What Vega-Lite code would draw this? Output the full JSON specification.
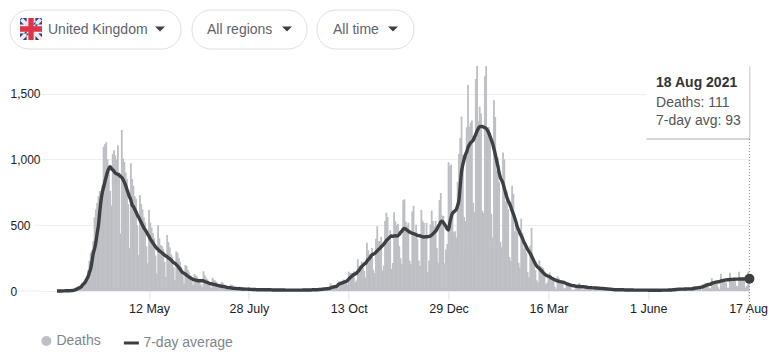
{"$schema":"https://vega.github.io/schema/vega-lite/v6.json","width":708,"height":225,"autosize":{"type":"none"},"padding":{"left":41.4,"top":66,"right":19.6,"bottom":61},"background":"white","config":{"view":{"stroke":null},"font":"Liberation Sans"},
"data":{"values":[
{"d":"2020-03-02","v":0,"a":0},{"d":"2020-03-03","v":0,"a":0},{"d":"2020-03-04","v":1,"a":0},{"d":"2020-03-05","v":0,"a":0},{"d":"2020-03-06","v":1,"a":0},{"d":"2020-03-07","v":2,"a":1},{"d":"2020-03-08","v":1,"a":1},
{"d":"2020-03-09","v":2,"a":2},{"d":"2020-03-10","v":1,"a":2},{"d":"2020-03-11","v":3,"a":2},{"d":"2020-03-12","v":2,"a":2},{"d":"2020-03-13","v":6,"a":3},{"d":"2020-03-14","v":8,"a":4},{"d":"2020-03-15","v":10,"a":5},
{"d":"2020-03-16","v":20,"a":8},{"d":"2020-03-17","v":30,"a":12},{"d":"2020-03-18","v":35,"a":17},{"d":"2020-03-19","v":40,"a":22},{"d":"2020-03-20","v":35,"a":27},{"d":"2020-03-21","v":50,"a":35},{"d":"2020-03-22","v":60,"a":50},
{"d":"2020-03-23","v":75,"a":58},{"d":"2020-03-24","v":90,"a":72},{"d":"2020-03-25","v":110,"a":90},{"d":"2020-03-26","v":160,"a":110},{"d":"2020-03-27","v":230,"a":140},{"d":"2020-03-28","v":290,"a":170},{"d":"2020-03-29","v":310,"a":225},
{"d":"2020-03-30","v":380,"a":286},{"d":"2020-03-31","v":560,"a":320},{"d":"2020-04-01","v":620,"a":370},{"d":"2020-04-02","v":670,"a":438},{"d":"2020-04-03","v":720,"a":500},{"d":"2020-04-04","v":760,"a":600},{"d":"2020-04-05","v":650,"a":690},
{"d":"2020-04-06","v":800,"a":750},{"d":"2020-04-07","v":1095,"a":790},{"d":"2020-04-08","v":1115,"a":830},{"d":"2020-04-09","v":1130,"a":870},{"d":"2020-04-10","v":1000,"a":905},{"d":"2020-04-11","v":950,"a":930},{"d":"2020-04-12","v":760,"a":944},
{"d":"2020-04-13","v":650,"a":930},{"d":"2020-04-14","v":1040,"a":920},{"d":"2020-04-15","v":1070,"a":910},{"d":"2020-04-16","v":1030,"a":895},{"d":"2020-04-17","v":1000,"a":890},{"d":"2020-04-18","v":1108,"a":885},{"d":"2020-04-19","v":900,"a":880},
{"d":"2020-04-20","v":437,"a":870},{"d":"2020-04-21","v":1222,"a":862},{"d":"2020-04-22","v":1007,"a":845},{"d":"2020-04-23","v":980,"a":825},{"d":"2020-04-24","v":900,"a":800},{"d":"2020-04-25","v":850,"a":770},{"d":"2020-04-26","v":660,"a":741},
{"d":"2020-04-27","v":324,"a":715},{"d":"2020-04-28","v":970,"a":690},{"d":"2020-04-29","v":850,"a":653},{"d":"2020-04-30","v":800,"a":640},{"d":"2020-05-01","v":720,"a":620},{"d":"2020-05-02","v":700,"a":600},{"d":"2020-05-03","v":500,"a":577},
{"d":"2020-05-04","v":273,"a":560},{"d":"2020-05-05","v":730,"a":540},{"d":"2020-05-06","v":660,"a":520},{"d":"2020-05-07","v":620,"a":500},{"d":"2020-05-08","v":560,"a":480},{"d":"2020-05-09","v":520,"a":465},{"d":"2020-05-10","v":340,"a":450},
{"d":"2020-05-11","v":210,"a":430},{"d":"2020-05-12","v":615,"a":415},{"d":"2020-05-13","v":520,"a":395},{"d":"2020-05-14","v":480,"a":380},{"d":"2020-05-15","v":440,"a":365},{"d":"2020-05-16","v":400,"a":350},{"d":"2020-05-17","v":270,"a":336},
{"d":"2020-05-18","v":134,"a":325},{"d":"2020-05-19","v":500,"a":315},{"d":"2020-05-20","v":400,"a":305},{"d":"2020-05-21","v":350,"a":298},{"d":"2020-05-22","v":340,"a":290},{"d":"2020-05-23","v":320,"a":280},{"d":"2020-05-24","v":220,"a":273},
{"d":"2020-05-25","v":109,"a":265},{"d":"2020-05-26","v":425,"a":260},{"d":"2020-05-27","v":370,"a":250},{"d":"2020-05-28","v":330,"a":245},{"d":"2020-05-29","v":280,"a":235},{"d":"2020-05-30","v":260,"a":225},{"d":"2020-05-31","v":180,"a":215},
{"d":"2020-06-01","v":83,"a":210},{"d":"2020-06-02","v":300,"a":200},{"d":"2020-06-03","v":290,"a":190},{"d":"2020-06-04","v":250,"a":178},{"d":"2020-06-05","v":220,"a":165},{"d":"2020-06-06","v":180,"a":150},{"d":"2020-06-07","v":120,"a":140},
{"d":"2020-06-08","v":58,"a":135},{"d":"2020-06-09","v":197,"a":128},{"d":"2020-06-10","v":190,"a":120},{"d":"2020-06-11","v":160,"a":112},{"d":"2020-06-12","v":140,"a":105},{"d":"2020-06-13","v":120,"a":100},{"d":"2020-06-14","v":75,"a":92},
{"d":"2020-06-15","v":45,"a":88},{"d":"2020-06-16","v":130,"a":85},{"d":"2020-06-17","v":120,"a":82},{"d":"2020-06-18","v":110,"a":80},{"d":"2020-06-19","v":95,"a":78},{"d":"2020-06-20","v":85,"a":78},{"d":"2020-06-21","v":50,"a":78},
{"d":"2020-06-22","v":30,"a":78},{"d":"2020-06-23","v":150,"a":76},{"d":"2020-06-24","v":120,"a":72},{"d":"2020-06-25","v":100,"a":68},{"d":"2020-06-26","v":90,"a":65},{"d":"2020-06-27","v":70,"a":60},{"d":"2020-06-28","v":40,"a":56},
{"d":"2020-06-29","v":25,"a":55},{"d":"2020-06-30","v":100,"a":52},{"d":"2020-07-01","v":85,"a":50},{"d":"2020-07-02","v":80,"a":48},{"d":"2020-07-03","v":70,"a":45},{"d":"2020-07-04","v":55,"a":42},{"d":"2020-07-05","v":30,"a":40},
{"d":"2020-07-06","v":20,"a":38},{"d":"2020-07-07","v":70,"a":36},{"d":"2020-07-08","v":60,"a":34},{"d":"2020-07-09","v":50,"a":33},{"d":"2020-07-10","v":40,"a":31},{"d":"2020-07-11","v":35,"a":28},{"d":"2020-07-12","v":20,"a":26},
{"d":"2020-07-13","v":12,"a":25},{"d":"2020-07-14","v":50,"a":24},{"d":"2020-07-15","v":45,"a":22},{"d":"2020-07-16","v":35,"a":21},{"d":"2020-07-17","v":30,"a":20},{"d":"2020-07-18","v":25,"a":19},{"d":"2020-07-19","v":12,"a":18},
{"d":"2020-07-20","v":10,"a":18},{"d":"2020-07-21","v":35,"a":17},{"d":"2020-07-22","v":30,"a":16},{"d":"2020-07-23","v":25,"a":15},{"d":"2020-07-24","v":20,"a":15},{"d":"2020-07-25","v":15,"a":14},{"d":"2020-07-26","v":8,"a":14},
{"d":"2020-07-27","v":7,"a":14},{"d":"2020-07-28","v":28,"a":13},{"d":"2020-07-29","v":22,"a":12},{"d":"2020-07-30","v":18,"a":12},{"d":"2020-07-31","v":15,"a":11},{"d":"2020-08-01","v":12,"a":11},{"d":"2020-08-02","v":6,"a":11},
{"d":"2020-08-03","v":6,"a":10},{"d":"2020-08-04","v":18,"a":10},{"d":"2020-08-05","v":15,"a":10},{"d":"2020-08-06","v":12,"a":9},{"d":"2020-08-07","v":10,"a":9},{"d":"2020-08-08","v":9,"a":9},{"d":"2020-08-09","v":5,"a":9},
{"d":"2020-08-10","v":5,"a":9},{"d":"2020-08-11","v":16,"a":9},{"d":"2020-08-12","v":13,"a":9},{"d":"2020-08-13","v":11,"a":9},{"d":"2020-08-14","v":9,"a":9},{"d":"2020-08-15","v":8,"a":8},{"d":"2020-08-16","v":4,"a":8},
{"d":"2020-08-17","v":5,"a":8},{"d":"2020-08-18","v":14,"a":8},{"d":"2020-08-19","v":11,"a":8},{"d":"2020-08-20","v":10,"a":8},{"d":"2020-08-21","v":8,"a":8},{"d":"2020-08-22","v":7,"a":8},{"d":"2020-08-23","v":4,"a":8},
{"d":"2020-08-24","v":3,"a":8},{"d":"2020-08-25","v":13,"a":7},{"d":"2020-08-26","v":10,"a":7},{"d":"2020-08-27","v":9,"a":7},{"d":"2020-08-28","v":8,"a":7},{"d":"2020-08-29","v":6,"a":7},{"d":"2020-08-30","v":3,"a":7},
{"d":"2020-08-31","v":3,"a":7},{"d":"2020-09-01","v":12,"a":7},{"d":"2020-09-02","v":10,"a":7},{"d":"2020-09-03","v":9,"a":7},{"d":"2020-09-04","v":8,"a":7},{"d":"2020-09-05","v":7,"a":7},{"d":"2020-09-06","v":3,"a":7},
{"d":"2020-09-07","v":4,"a":7},{"d":"2020-09-08","v":14,"a":8},{"d":"2020-09-09","v":11,"a":8},{"d":"2020-09-10","v":9,"a":8},{"d":"2020-09-11","v":8,"a":8},{"d":"2020-09-12","v":7,"a":8},{"d":"2020-09-13","v":4,"a":8},
{"d":"2020-09-14","v":6,"a":8},{"d":"2020-09-15","v":18,"a":9},{"d":"2020-09-16","v":15,"a":9},{"d":"2020-09-17","v":13,"a":10},{"d":"2020-09-18","v":10,"a":10},{"d":"2020-09-19","v":9,"a":10},{"d":"2020-09-20","v":6,"a":11},
{"d":"2020-09-21","v":8,"a":11},{"d":"2020-09-22","v":26,"a":12},{"d":"2020-09-23","v":22,"a":14},{"d":"2020-09-24","v":20,"a":15},{"d":"2020-09-25","v":18,"a":16},{"d":"2020-09-26","v":15,"a":17},{"d":"2020-09-27","v":10,"a":18},
{"d":"2020-09-28","v":12,"a":19},{"d":"2020-09-29","v":60,"a":24},{"d":"2020-09-30","v":45,"a":27},{"d":"2020-10-01","v":40,"a":30},{"d":"2020-10-02","v":35,"a":32},{"d":"2020-10-03","v":30,"a":34},{"d":"2020-10-04","v":20,"a":35},
{"d":"2020-10-05","v":19,"a":50},{"d":"2020-10-06","v":76,"a":55},{"d":"2020-10-07","v":70,"a":58},{"d":"2020-10-08","v":77,"a":62},{"d":"2020-10-09","v":87,"a":66},{"d":"2020-10-10","v":81,"a":70},{"d":"2020-10-11","v":65,"a":72},
{"d":"2020-10-12","v":50,"a":80},{"d":"2020-10-13","v":147,"a":90},{"d":"2020-10-14","v":137,"a":100},{"d":"2020-10-15","v":138,"a":109},{"d":"2020-10-16","v":136,"a":118},{"d":"2020-10-17","v":150,"a":125},{"d":"2020-10-18","v":67,"a":130},
{"d":"2020-10-19","v":80,"a":135},{"d":"2020-10-20","v":241,"a":148},{"d":"2020-10-21","v":191,"a":158},{"d":"2020-10-22","v":189,"a":172},{"d":"2020-10-23","v":224,"a":185},{"d":"2020-10-24","v":174,"a":195},{"d":"2020-10-25","v":151,"a":205},
{"d":"2020-10-26","v":102,"a":210},{"d":"2020-10-27","v":367,"a":225},{"d":"2020-10-28","v":310,"a":238},{"d":"2020-10-29","v":280,"a":248},{"d":"2020-10-30","v":274,"a":262},{"d":"2020-10-31","v":326,"a":275},{"d":"2020-11-01","v":162,"a":280},
{"d":"2020-11-02","v":136,"a":285},{"d":"2020-11-03","v":397,"a":295},{"d":"2020-11-04","v":492,"a":305},{"d":"2020-11-05","v":378,"a":315},{"d":"2020-11-06","v":379,"a":324},{"d":"2020-11-07","v":413,"a":335},{"d":"2020-11-08","v":156,"a":345},
{"d":"2020-11-09","v":194,"a":355},{"d":"2020-11-10","v":532,"a":368},{"d":"2020-11-11","v":595,"a":382},{"d":"2020-11-12","v":563,"a":392},{"d":"2020-11-13","v":376,"a":402},{"d":"2020-11-14","v":462,"a":412},{"d":"2020-11-15","v":168,"a":418},
{"d":"2020-11-16","v":213,"a":415},{"d":"2020-11-17","v":598,"a":418},{"d":"2020-11-18","v":529,"a":420},{"d":"2020-11-19","v":501,"a":418},{"d":"2020-11-20","v":511,"a":420},{"d":"2020-11-21","v":341,"a":430},{"d":"2020-11-22","v":250,"a":445},
{"d":"2020-11-23","v":206,"a":455},{"d":"2020-11-24","v":690,"a":470},{"d":"2020-11-25","v":696,"a":476},{"d":"2020-11-26","v":528,"a":470},{"d":"2020-11-27","v":498,"a":462},{"d":"2020-11-28","v":519,"a":455},{"d":"2020-11-29","v":230,"a":448},
{"d":"2020-11-30","v":205,"a":442},{"d":"2020-12-01","v":603,"a":438},{"d":"2020-12-02","v":648,"a":436},{"d":"2020-12-03","v":414,"a":432},{"d":"2020-12-04","v":504,"a":428},{"d":"2020-12-05","v":397,"a":422},{"d":"2020-12-06","v":231,"a":420},
{"d":"2020-12-07","v":189,"a":418},{"d":"2020-12-08","v":616,"a":415},{"d":"2020-12-09","v":533,"a":412},{"d":"2020-12-10","v":516,"a":410},{"d":"2020-12-11","v":424,"a":412},{"d":"2020-12-12","v":519,"a":412},{"d":"2020-12-13","v":144,"a":412},
{"d":"2020-12-14","v":232,"a":415},{"d":"2020-12-15","v":506,"a":418},{"d":"2020-12-16","v":612,"a":425},{"d":"2020-12-17","v":532,"a":435},{"d":"2020-12-18","v":489,"a":445},{"d":"2020-12-19","v":534,"a":455},{"d":"2020-12-20","v":326,"a":470},
{"d":"2020-12-21","v":215,"a":490},{"d":"2020-12-22","v":691,"a":505},{"d":"2020-12-23","v":744,"a":526},{"d":"2020-12-24","v":574,"a":530},{"d":"2020-12-25","v":570,"a":520},{"d":"2020-12-26","v":210,"a":505},{"d":"2020-12-27","v":316,"a":490},
{"d":"2020-12-28","v":357,"a":470},{"d":"2020-12-29","v":977,"a":463},{"d":"2020-12-30","v":950,"a":520},{"d":"2020-12-31","v":960,"a":560},{"d":"2021-01-01","v":613,"a":590},{"d":"2021-01-02","v":445,"a":600},{"d":"2021-01-03","v":454,"a":610},
{"d":"2021-01-04","v":407,"a":620},{"d":"2021-01-05","v":830,"a":650},{"d":"2021-01-06","v":1041,"a":690},{"d":"2021-01-07","v":1162,"a":800},{"d":"2021-01-08","v":1325,"a":906},{"d":"2021-01-09","v":1035,"a":960},{"d":"2021-01-10","v":563,"a":1000},
{"d":"2021-01-11","v":529,"a":1035},{"d":"2021-01-12","v":1243,"a":1057},{"d":"2021-01-13","v":1564,"a":1090},{"d":"2021-01-14","v":1248,"a":1110},{"d":"2021-01-15","v":1280,"a":1125},{"d":"2021-01-16","v":1295,"a":1135},{"d":"2021-01-17","v":671,"a":1146},
{"d":"2021-01-18","v":599,"a":1170},{"d":"2021-01-19","v":1610,"a":1190},{"d":"2021-01-20","v":1820,"a":1215},{"d":"2021-01-21","v":1290,"a":1235},{"d":"2021-01-22","v":1401,"a":1247},{"d":"2021-01-23","v":1348,"a":1250},{"d":"2021-01-24","v":610,"a":1250},
{"d":"2021-01-25","v":592,"a":1245},{"d":"2021-01-26","v":1631,"a":1240},{"d":"2021-01-27","v":1725,"a":1235},{"d":"2021-01-28","v":1239,"a":1220},{"d":"2021-01-29","v":1245,"a":1200},{"d":"2021-01-30","v":1200,"a":1175},{"d":"2021-01-31","v":587,"a":1146},
{"d":"2021-02-01","v":406,"a":1120},{"d":"2021-02-02","v":1449,"a":1080},{"d":"2021-02-03","v":1322,"a":1040},{"d":"2021-02-04","v":915,"a":994},{"d":"2021-02-05","v":1014,"a":950},{"d":"2021-02-06","v":828,"a":900},{"d":"2021-02-07","v":373,"a":860},
{"d":"2021-02-08","v":333,"a":840},{"d":"2021-02-09","v":1052,"a":817},{"d":"2021-02-10","v":1001,"a":780},{"d":"2021-02-11","v":678,"a":745},{"d":"2021-02-12","v":758,"a":710},{"d":"2021-02-13","v":621,"a":685},{"d":"2021-02-14","v":258,"a":665},
{"d":"2021-02-15","v":230,"a":640},{"d":"2021-02-16","v":799,"a":610},{"d":"2021-02-17","v":738,"a":585},{"d":"2021-02-18","v":454,"a":555},{"d":"2021-02-19","v":533,"a":525},{"d":"2021-02-20","v":445,"a":488},{"d":"2021-02-21","v":215,"a":465},
{"d":"2021-02-22","v":178,"a":440},{"d":"2021-02-23","v":548,"a":420},{"d":"2021-02-24","v":442,"a":400},{"d":"2021-02-25","v":323,"a":374},{"d":"2021-02-26","v":345,"a":355},{"d":"2021-02-27","v":290,"a":335},{"d":"2021-02-28","v":144,"a":315},
{"d":"2021-03-01","v":104,"a":300},{"d":"2021-03-02","v":343,"a":286},{"d":"2021-03-03","v":480,"a":265},{"d":"2021-03-04","v":242,"a":245},{"d":"2021-03-05","v":236,"a":225},{"d":"2021-03-06","v":158,"a":205},{"d":"2021-03-07","v":82,"a":190},
{"d":"2021-03-08","v":65,"a":180},{"d":"2021-03-09","v":231,"a":172},{"d":"2021-03-10","v":190,"a":160},{"d":"2021-03-11","v":181,"a":150},{"d":"2021-03-12","v":175,"a":140},{"d":"2021-03-13","v":121,"a":130},{"d":"2021-03-14","v":52,"a":122},
{"d":"2021-03-15","v":64,"a":115},{"d":"2021-03-16","v":110,"a":112},{"d":"2021-03-17","v":141,"a":109},{"d":"2021-03-18","v":95,"a":100},{"d":"2021-03-19","v":101,"a":95},{"d":"2021-03-20","v":96,"a":90},{"d":"2021-03-21","v":33,"a":85},
{"d":"2021-03-22","v":17,"a":80},{"d":"2021-03-23","v":112,"a":77},{"d":"2021-03-24","v":98,"a":74},{"d":"2021-03-25","v":63,"a":71},{"d":"2021-03-26","v":70,"a":69},{"d":"2021-03-27","v":70,"a":67},{"d":"2021-03-28","v":19,"a":65},
{"d":"2021-03-29","v":23,"a":60},{"d":"2021-03-30","v":56,"a":55},{"d":"2021-03-31","v":45,"a":52},{"d":"2021-04-01","v":43,"a":48},{"d":"2021-04-02","v":52,"a":46},{"d":"2021-04-03","v":10,"a":42},{"d":"2021-04-04","v":10,"a":40},
{"d":"2021-04-05","v":9,"a":40},{"d":"2021-04-06","v":20,"a":36},{"d":"2021-04-07","v":45,"a":35},{"d":"2021-04-08","v":53,"a":34},{"d":"2021-04-09","v":60,"a":34},{"d":"2021-04-10","v":40,"a":33},{"d":"2021-04-11","v":7,"a":32},
{"d":"2021-04-12","v":13,"a":32},{"d":"2021-04-13","v":23,"a":31},{"d":"2021-04-14","v":33,"a":30},{"d":"2021-04-15","v":30,"a":28},{"d":"2021-04-16","v":29,"a":26},{"d":"2021-04-17","v":32,"a":26},{"d":"2021-04-18","v":10,"a":25},
{"d":"2021-04-19","v":4,"a":24},{"d":"2021-04-20","v":33,"a":24},{"d":"2021-04-21","v":22,"a":23},{"d":"2021-04-22","v":29,"a":23},{"d":"2021-04-23","v":18,"a":22},{"d":"2021-04-24","v":19,"a":21},{"d":"2021-04-25","v":8,"a":20},
{"d":"2021-04-26","v":17,"a":20},{"d":"2021-04-27","v":29,"a":19},{"d":"2021-04-28","v":22,"a":18},{"d":"2021-04-29","v":17,"a":17},{"d":"2021-04-30","v":15,"a":16},{"d":"2021-05-01","v":8,"a":15},{"d":"2021-05-02","v":1,"a":14},
{"d":"2021-05-03","v":1,"a":13},{"d":"2021-05-04","v":3,"a":12},{"d":"2021-05-05","v":14,"a":11},{"d":"2021-05-06","v":11,"a":10},{"d":"2021-05-07","v":9,"a":10},{"d":"2021-05-08","v":6,"a":9},{"d":"2021-05-09","v":2,"a":9},
{"d":"2021-05-10","v":2,"a":9},{"d":"2021-05-11","v":11,"a":9},{"d":"2021-05-12","v":11,"a":9},{"d":"2021-05-13","v":11,"a":9},{"d":"2021-05-14","v":9,"a":8},{"d":"2021-05-15","v":7,"a":8},{"d":"2021-05-16","v":2,"a":8},
{"d":"2021-05-17","v":1,"a":8},{"d":"2021-05-18","v":9,"a":8},{"d":"2021-05-19","v":7,"a":8},{"d":"2021-05-20","v":9,"a":8},{"d":"2021-05-21","v":6,"a":7},{"d":"2021-05-22","v":7,"a":7},{"d":"2021-05-23","v":2,"a":7},
{"d":"2021-05-24","v":1,"a":7},{"d":"2021-05-25","v":9,"a":7},{"d":"2021-05-26","v":7,"a":7},{"d":"2021-05-27","v":12,"a":7},{"d":"2021-05-28","v":6,"a":7},{"d":"2021-05-29","v":6,"a":7},{"d":"2021-05-30","v":2,"a":7},
{"d":"2021-05-31","v":1,"a":7},{"d":"2021-06-01","v":3,"a":6},{"d":"2021-06-02","v":10,"a":6},{"d":"2021-06-03","v":6,"a":6},{"d":"2021-06-04","v":8,"a":6},{"d":"2021-06-05","v":2,"a":6},{"d":"2021-06-06","v":2,"a":6},
{"d":"2021-06-07","v":4,"a":6},{"d":"2021-06-08","v":6,"a":6},{"d":"2021-06-09","v":9,"a":6},{"d":"2021-06-10","v":9,"a":6},{"d":"2021-06-11","v":9,"a":6},{"d":"2021-06-12","v":5,"a":7},{"d":"2021-06-13","v":2,"a":7},
{"d":"2021-06-14","v":3,"a":7},{"d":"2021-06-15","v":9,"a":7},{"d":"2021-06-16","v":9,"a":7},{"d":"2021-06-17","v":11,"a":8},{"d":"2021-06-18","v":11,"a":8},{"d":"2021-06-19","v":10,"a":8},{"d":"2021-06-20","v":6,"a":9},
{"d":"2021-06-21","v":3,"a":9},{"d":"2021-06-22","v":23,"a":11},{"d":"2021-06-23","v":16,"a":12},{"d":"2021-06-24","v":19,"a":13},{"d":"2021-06-25","v":18,"a":14},{"d":"2021-06-26","v":11,"a":14},{"d":"2021-06-27","v":4,"a":14},
{"d":"2021-06-28","v":3,"a":14},{"d":"2021-06-29","v":20,"a":15},{"d":"2021-06-30","v":18,"a":15},{"d":"2021-07-01","v":22,"a":16},{"d":"2021-07-02","v":18,"a":16},{"d":"2021-07-03","v":15,"a":16},{"d":"2021-07-04","v":10,"a":16},
{"d":"2021-07-05","v":9,"a":17},{"d":"2021-07-06","v":37,"a":19},{"d":"2021-07-07","v":33,"a":21},{"d":"2021-07-08","v":29,"a":23},{"d":"2021-07-09","v":34,"a":24},{"d":"2021-07-10","v":26,"a":26},{"d":"2021-07-11","v":25,"a":27},
{"d":"2021-07-12","v":6,"a":29},{"d":"2021-07-13","v":50,"a":32},{"d":"2021-07-14","v":49,"a":36},{"d":"2021-07-15","v":63,"a":40},{"d":"2021-07-16","v":49,"a":45},{"d":"2021-07-17","v":41,"a":48},{"d":"2021-07-18","v":25,"a":50},
{"d":"2021-07-19","v":19,"a":52},{"d":"2021-07-20","v":96,"a":58},{"d":"2021-07-21","v":73,"a":62},{"d":"2021-07-22","v":64,"a":64},{"d":"2021-07-23","v":71,"a":67},{"d":"2021-07-24","v":65,"a":69},{"d":"2021-07-25","v":28,"a":70},
{"d":"2021-07-26","v":14,"a":72},{"d":"2021-07-27","v":131,"a":76},{"d":"2021-07-28","v":86,"a":78},{"d":"2021-07-29","v":91,"a":80},{"d":"2021-07-30","v":68,"a":82},{"d":"2021-07-31","v":65,"a":84},{"d":"2021-08-01","v":24,"a":85},
{"d":"2021-08-02","v":24,"a":85},{"d":"2021-08-03","v":138,"a":87},{"d":"2021-08-04","v":86,"a":88},{"d":"2021-08-05","v":92,"a":88},{"d":"2021-08-06","v":103,"a":89},{"d":"2021-08-07","v":92,"a":90},{"d":"2021-08-08","v":39,"a":90},
{"d":"2021-08-09","v":37,"a":90},{"d":"2021-08-10","v":146,"a":91},{"d":"2021-08-11","v":100,"a":91},{"d":"2021-08-12","v":94,"a":91},{"d":"2021-08-13","v":100,"a":91},{"d":"2021-08-14","v":103,"a":92},{"d":"2021-08-15","v":26,"a":92},
{"d":"2021-08-16","v":40,"a":92},{"d":"2021-08-17","v":146,"a":92},{"d":"2021-08-18","v":111,"a":93}
]},
"layer":[
{"mark":{"type":"bar","width":1.8,"clip":true,"opacity":1},"encoding":{
"x":{"field":"d","type":"temporal","title":null,"scale":{"type":"utc","domain":[1582070400000,1629244800000],"nice":false,"padding":0},
"axis":{"values":[1589241600000,1595894400000,1602547200000,1609200000000,1615852800000,1622505600000,1629158400000],"labelExpr":"replace(replace(utcFormat(datum.value,'%-d %b'),'Jul','July'),'Jun','June')","grid":false,"domain":false,"tickColor":"#e4e4e4","tickSize":9,"labelFontSize":12.5,"labelColor":"#202124","labelPadding":2,"labelFlush":false,"labelOverlap":false,"labelBound":false,"labelFont":"Liberation Sans"}},
"y":{"field":"v","type":"quantitative","title":null,"scale":{"domain":[0,1709],"nice":false,"zero":true},
"axis":{"values":[0,500,1000,1500],"format":",.0f","grid":true,"gridColor":"#eeeeee","domain":false,"ticks":false,"labelAlign":"left","labelPadding":31.4,"labelFontSize":12,"labelColor":"#202124","labelFont":"Liberation Sans"}},
"fill":{"datum":"Deaths","type":"nominal","scale":{"domain":["Deaths"],"range":["#bdbfc4"]},
"legend":{"title":null,"orient":"none","legendX":-2,"legendY":268,"labelFontSize":14,"labelColor":"#80868b","labelFont":"Liberation Sans","labelOffset":3,"symbolType":"circle","symbolSize":100,"symbolOpacity":1}}}},
{"data":{"values":[{"n":1}]},"mark":{"type":"rule","color":"#eeeeee"},"encoding":{"x":{"datum":{"utc":true,"year":2020,"month":1,"date":1,"hours":724},"type":"temporal"},"x2":{"datum":{"utc":true,"year":2020,"month":1,"date":1,"hours":1176}},"y":{"datum":0,"type":"quantitative"}}},
{"data":{"values":[{"n":1}]},"mark":{"type":"rule","color":"#eeeeee"},"encoding":{"x":{"datum":{"utc":true,"year":2020,"month":1,"date":1,"hours":1057},"type":"temporal"},"x2":{"datum":{"utc":true,"year":2020,"month":1,"date":1,"hours":1176}},"y":{"datum":500,"type":"quantitative"}}},
{"mark":{"type":"line","strokeWidth":3.4,"interpolate":"monotone"},"encoding":{"x":{"field":"d","type":"temporal"},"y":{"field":"a","type":"quantitative"},"stroke":{"datum":"7-day average","type":"nominal","scale":{"domain":["7-day average"],"range":["#3c4043"]},
"legend":{"title":null,"orient":"none","legendX":81,"legendY":268,"labelFontSize":14,"labelColor":"#80868b","labelFont":"Liberation Sans","labelOffset":3,"symbolType":"stroke","symbolSize":225,"symbolStrokeWidth":3,"symbolOpacity":1}}}},
{"data":{"values":[{"d":"2021-08-18"}]},"mark":{"type":"rule","color":"#8a8a8a","strokeDash":[1,2],"strokeWidth":1},"encoding":{"x":{"field":"d","type":"temporal"},"y":{"datum":1154,"type":"quantitative"},"y2":{"datum":-220}}},
{"data":{"values":[{"d":"2021-08-18","a":93}]},"mark":{"type":"point","filled":true,"size":100,"opacity":1,"color":"#3c4043"},"encoding":{"x":{"field":"d","type":"temporal"},"y":{"field":"a","type":"quantitative"}}},
{"data":{"values":[{"n":1}]},"mark":{"type":"rect","fill":"#000000","opacity":0.16},"encoding":{"x":{"datum":{"utc":true,"year":2020,"month":1,"date":1,"hours":12375},"type":"temporal"},"x2":{"datum":{"utc":true,"year":2020,"month":1,"date":1,"hours":14300}},"y":{"datum":1705,"type":"quantitative"},"y2":{"datum":1147}}},
{"data":{"values":[{"n":1}]},"mark":{"type":"rect","fill":"white"},"encoding":{"x":{"datum":{"utc":true,"year":2020,"month":1,"date":1,"hours":12367},"type":"temporal"},"x2":{"datum":{"utc":true,"year":2020,"month":1,"date":1,"hours":14273}},"y":{"datum":1709,"type":"quantitative"},"y2":{"datum":1162}}},
{"data":{"values":[{"t":"18 Aug 2021"}]},"mark":{"type":"text","align":"left","baseline":"middle","fontSize":14,"fontWeight":"bold","color":"#333333"},"encoding":{"text":{"field":"t"},"x":{"datum":{"utc":true,"year":2020,"month":1,"date":1,"hours":12552},"type":"temporal"},"y":{"datum":1580,"type":"quantitative"}}},
{"data":{"values":[{"t":"Deaths: 111"}]},"mark":{"type":"text","align":"left","baseline":"middle","fontSize":14,"color":"#555555"},"encoding":{"text":{"field":"t"},"x":{"datum":{"utc":true,"year":2020,"month":1,"date":1,"hours":12552},"type":"temporal"},"y":{"datum":1428,"type":"quantitative"}}},
{"data":{"values":[{"t":"7-day avg: 93"}]},"mark":{"type":"text","align":"left","baseline":"middle","fontSize":14,"color":"#555555"},"encoding":{"text":{"field":"t"},"x":{"datum":{"utc":true,"year":2020,"month":1,"date":1,"hours":12552},"type":"temporal"},"y":{"datum":1291,"type":"quantitative"}}},
{"data":{"values":[{"n":1}]},"mark":{"type":"rect","fill":"white","stroke":"#e0e0e0","strokeWidth":1,"cornerRadius":19},"encoding":{"x":{"datum":{"utc":true,"year":2020,"month":1,"date":1,"hours":595},"type":"temporal"},"x2":{"datum":{"utc":true,"year":2020,"month":1,"date":1,"hours":3760}},"y":{"datum":2134,"type":"quantitative"},"y2":{"datum":1838}}},
{"data":{"values":[{"n":1}]},"mark":{"type":"rect","fill":"white","stroke":"#e0e0e0","strokeWidth":1,"cornerRadius":19},"encoding":{"x":{"datum":{"utc":true,"year":2020,"month":1,"date":1,"hours":3963},"type":"temporal"},"x2":{"datum":{"utc":true,"year":2020,"month":1,"date":1,"hours":6092}},"y":{"datum":2134,"type":"quantitative"},"y2":{"datum":1838}}},
{"data":{"values":[{"n":1}]},"mark":{"type":"rect","fill":"white","stroke":"#e0e0e0","strokeWidth":1,"cornerRadius":19},"encoding":{"x":{"datum":{"utc":true,"year":2020,"month":1,"date":1,"hours":6277},"type":"temporal"},"x2":{"datum":{"utc":true,"year":2020,"month":1,"date":1,"hours":8072}},"y":{"datum":2134,"type":"quantitative"},"y2":{"datum":1838}}},
{"data":{"values":[{"t":"United Kingdom"}]},"mark":{"type":"text","align":"left","baseline":"middle","fontSize":14,"color":"#5f6368"},"encoding":{"text":{"field":"t"},"x":{"datum":{"utc":true,"year":2020,"month":1,"date":1,"hours":1298},"type":"temporal"},"y":{"datum":1986,"type":"quantitative"}}},
{"data":{"values":[{"t":"All regions"}]},"mark":{"type":"text","align":"left","baseline":"middle","fontSize":14,"color":"#5f6368"},"encoding":{"text":{"field":"t"},"x":{"datum":{"utc":true,"year":2020,"month":1,"date":1,"hours":4241},"type":"temporal"},"y":{"datum":1986,"type":"quantitative"}}},
{"data":{"values":[{"t":"All time"}]},"mark":{"type":"text","align":"left","baseline":"middle","fontSize":14,"color":"#5f6368"},"encoding":{"text":{"field":"t"},"x":{"datum":{"utc":true,"year":2020,"month":1,"date":1,"hours":6573},"type":"temporal"},"y":{"datum":1986,"type":"quantitative"}}},
{"data":{"values":[{"n":1}]},"mark":{"type":"point","filled":true,"opacity":1,"color":"#3c4043","size":100,"shape":"M-1,-0.5L1,-0.5L0,0.5Z"},"encoding":{"x":{"datum":{"utc":true,"year":2020,"month":1,"date":1,"hours":3371},"type":"temporal"},"y":{"datum":1990,"type":"quantitative"}}},
{"data":{"values":[{"n":1}]},"mark":{"type":"point","filled":true,"opacity":1,"color":"#3c4043","size":100,"shape":"M-1,-0.5L1,-0.5L0,0.5Z"},"encoding":{"x":{"datum":{"utc":true,"year":2020,"month":1,"date":1,"hours":5722},"type":"temporal"},"y":{"datum":1990,"type":"quantitative"}}},
{"data":{"values":[{"n":1}]},"mark":{"type":"point","filled":true,"opacity":1,"color":"#3c4043","size":100,"shape":"M-1,-0.5L1,-0.5L0,0.5Z"},"encoding":{"x":{"datum":{"utc":true,"year":2020,"month":1,"date":1,"hours":7684},"type":"temporal"},"y":{"datum":1990,"type":"quantitative"}}},
{"data":{"values":[{"n":1}]},"mark":{"type":"point","filled":true,"opacity":1,"color":"#24408e","size":484,"shape":"M-0.85,-1H0.85Q1,-1,1,-0.85V0.85Q1,1,0.85,1H-0.85Q-1,1,-1,0.85V-0.85Q-1,-1,-0.85,-1Z"},"encoding":{"x":{"datum":{"utc":true,"year":2020,"month":1,"date":1,"hours":984},"type":"temporal"},"y":{"datum":1990,"type":"quantitative"}}},
{"data":{"values":[{"n":1}]},"mark":{"type":"point","filled":true,"opacity":1,"color":"#f1e8e8","size":484,"shape":"M-1,-0.75L-0.75,-1L1,0.75V1H0.75L-1,-0.75ZM1,-0.75L0.75,-1L-1,0.75V1H-0.75L1,-0.75ZM-0.4,-1H0.4V1H-0.4ZM-1,-0.4H1V0.4H-1Z"},"encoding":{"x":{"datum":{"utc":true,"year":2020,"month":1,"date":1,"hours":984},"type":"temporal"},"y":{"datum":1990,"type":"quantitative"}}},
{"data":{"values":[{"n":1}]},"mark":{"type":"point","filled":true,"opacity":1,"color":"#e0334a","size":484,"shape":"M-0.24,-1H0.24V1H-0.24ZM-1,-0.24H1V0.24H-1Z"},"encoding":{"x":{"datum":{"utc":true,"year":2020,"month":1,"date":1,"hours":984},"type":"temporal"},"y":{"datum":1990,"type":"quantitative"}}}
]}
